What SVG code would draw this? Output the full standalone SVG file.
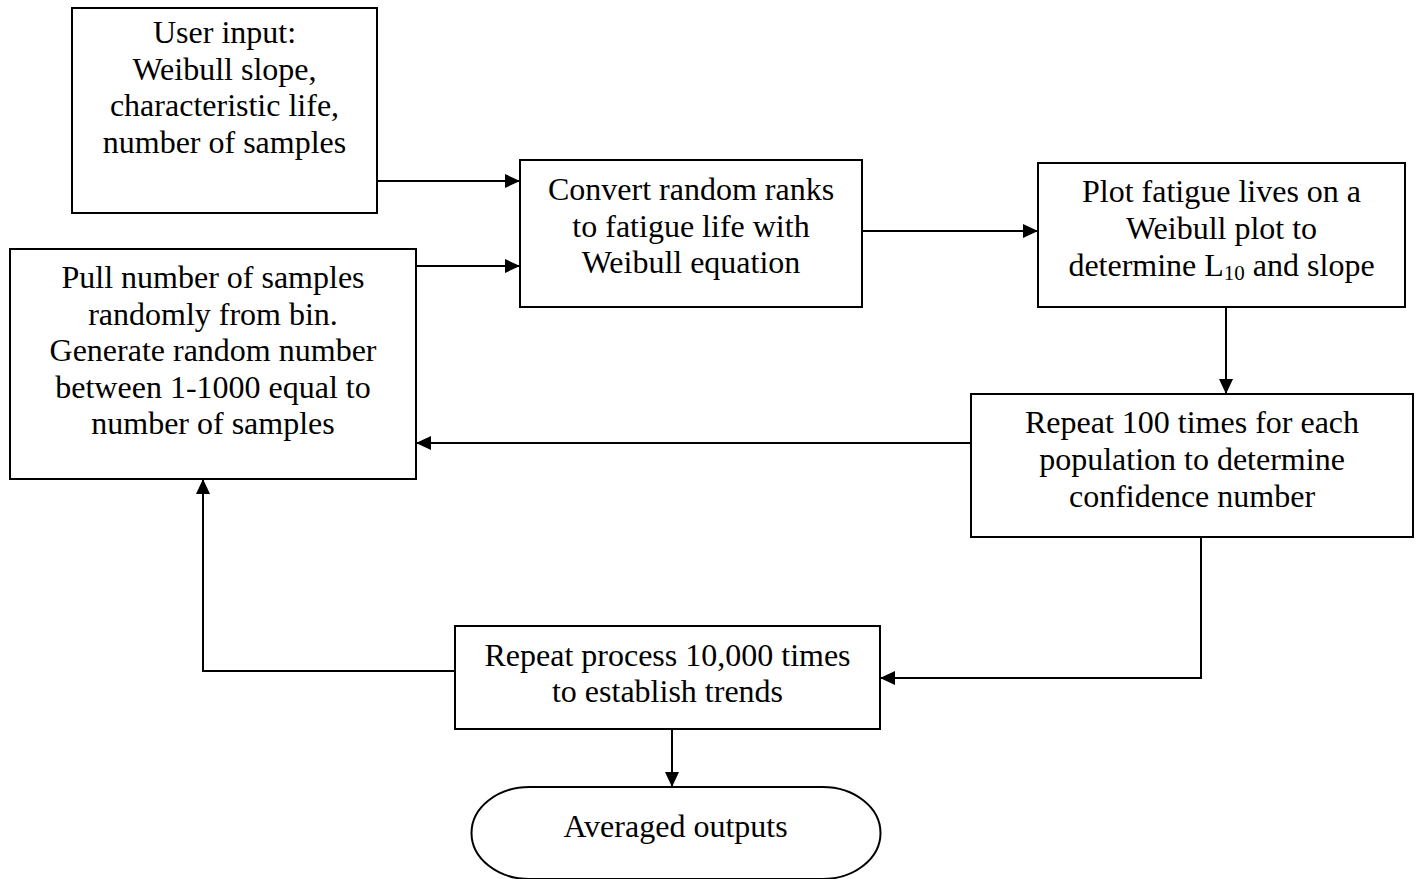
<svg xmlns="http://www.w3.org/2000/svg" width="1422" height="879" viewBox="0 0 1422 879">
<style>
.box{fill:#fff;stroke:#000;stroke-width:2}
.t{font-family:"Liberation Serif","Times New Roman",serif;font-size:32px;fill:#000;text-anchor:middle}
.c{fill:none;stroke:#000;stroke-width:2}
</style>
<defs>
<marker id="ah" markerWidth="15" markerHeight="14" refX="15" refY="7" orient="auto" markerUnits="userSpaceOnUse">
<path d="M0,0 L15,7 L0,14 Z" fill="#000"/>
</marker>
</defs>
<rect width="1422" height="879" fill="#fff"/>
<g id="connectors">
<path class="c" d="M377,181 H520" marker-end="url(#ah)"/>
<path class="c" d="M416,266 H520" marker-end="url(#ah)"/>
<path class="c" d="M862,231 H1038" marker-end="url(#ah)"/>
<path class="c" d="M1226,307 V394" marker-end="url(#ah)"/>
<path class="c" d="M971,443 H416" marker-end="url(#ah)"/>
<path class="c" d="M1201,537 V678 H880" marker-end="url(#ah)"/>
<path class="c" d="M455,671 H203 V479" marker-end="url(#ah)"/>
<path class="c" d="M672,729 V787" marker-end="url(#ah)"/>
</g>
<g id="user-input">
<rect class="box" x="72" y="8" width="305" height="205"/>
<text class="t" x="224.5" y="43">User input:</text>
<text class="t" x="224.5" y="79.5">Weibull slope,</text>
<text class="t" x="224.5" y="116">characteristic life,</text>
<text class="t" x="224.5" y="152.5">number of samples</text>
</g>
<g id="convert">
<rect class="box" x="520" y="160" width="342" height="147"/>
<text class="t" x="691" y="200">Convert random ranks</text>
<text class="t" x="691" y="236.5">to fatigue life with</text>
<text class="t" x="691" y="273">Weibull equation</text>
</g>
<g id="plot">
<rect class="box" x="1038" y="163" width="367" height="144"/>
<text class="t" x="1221.5" y="202">Plot fatigue lives on a</text>
<text class="t" x="1221.5" y="239">Weibull plot to</text>
<text class="t" x="1221.5" y="276">determine L<tspan font-size="21" dy="4">10</tspan><tspan dy="-4"> and slope</tspan></text>
</g>
<g id="pull">
<rect class="box" x="10" y="249" width="406" height="230"/>
<text class="t" x="213" y="288">Pull number of samples</text>
<text class="t" x="213" y="324.5">randomly from bin.</text>
<text class="t" x="213" y="361">Generate random number</text>
<text class="t" x="213" y="397.5">between 1-1000 equal to</text>
<text class="t" x="213" y="434">number of samples</text>
</g>
<g id="repeat-100">
<rect class="box" x="971" y="394" width="442" height="143"/>
<text class="t" x="1192" y="433">Repeat 100 times for each</text>
<text class="t" x="1192" y="470">population to determine</text>
<text class="t" x="1192" y="506.5">confidence number</text>
</g>
<g id="repeat-process">
<rect class="box" x="455" y="626" width="425" height="103"/>
<text class="t" x="667.5" y="666">Repeat process 10,000 times</text>
<text class="t" x="667.5" y="702">to establish trends</text>
</g>
<g id="averaged-outputs">
<rect class="box" x="471.5" y="787" width="409" height="92" rx="58" ry="46"/>
<text class="t" x="675.5" y="837">Averaged outputs</text>
</g>
</svg>
